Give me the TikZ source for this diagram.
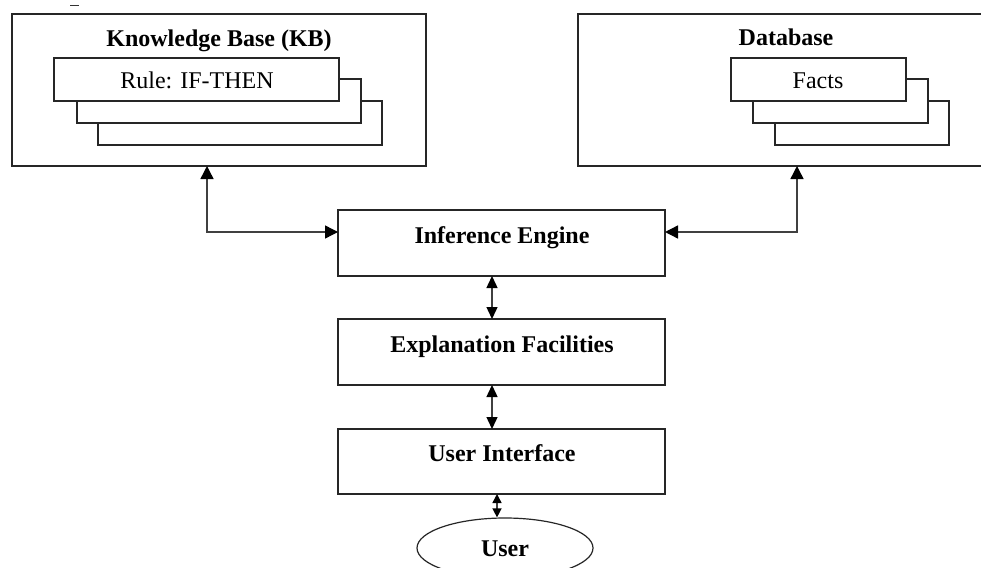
\documentclass[tikz,border=0pt]{standalone}
\usepackage{fontspec}
\setmainfont{Liberation Serif}
\usetikzlibrary{arrows.meta,shapes.geometric}
\tikzset{
  lbox/.style={draw=black!85, line width=1.2pt, fill=white, inner sep=0pt, outer sep=0pt},
  txt/.style={anchor=base, inner sep=0pt, font=\fontsize{24}{28}\selectfont},
  btxt/.style={txt, font=\fontsize{24}{28}\selectfont\bfseries},
  conn/.style={draw=black!75, line width=1.4pt, {Triangle[length=13pt,width=13pt,color=black]}-{Triangle[length=13pt,width=13pt,color=black]}},
  mconn/.style={draw=black!75, line width=1.4pt, {Triangle[length=12pt,width=11pt,color=black]}-{Triangle[length=12pt,width=11pt,color=black]}},
  sconn/.style={draw=black!75, line width=1.4pt, {Triangle[length=9pt,width=9pt,color=black]}-{Triangle[length=9pt,width=9pt,color=black]}},
}
\begin{document}
\begin{tikzpicture}[x=1pt,y=-1pt]
\useasboundingbox (0,0) rectangle (981,567);
\clip (0,0) rectangle (981,567);
\fill[white] (0,0) rectangle (981,567);
% stray mark
\draw[black!80, line width=1pt] (70,6) -- (79,6);
% Knowledge base
\node[lbox, minimum width=414pt, minimum height=152pt] (kb) at (219,90) {};
\node[btxt] (kbt) at (219,47) {Knowledge Base (KB)};
\node[lbox, minimum width=284pt, minimum height=44pt] (r3) at (240,123) {};
\node[lbox, minimum width=284pt, minimum height=44pt] (r2) at (219,101) {};
\node[lbox, minimum width=285pt, minimum height=43pt] (r1) at (196.5,79.5) {};
\node[txt] (r1t) at (197,89) {Rule: IF-THEN};
% Database
\node[lbox, minimum width=416pt, minimum height=152pt] (db) at (786,90) {};
\node[btxt] (dbt) at (786,46) {Database};
\node[lbox, minimum width=174pt, minimum height=44pt] (f3) at (862,123) {};
\node[lbox, minimum width=175pt, minimum height=44pt] (f2) at (840.5,101) {};
\node[lbox, minimum width=175pt, minimum height=43pt] (f1) at (818.5,79.5) {};
\node[txt] (f1t) at (818,89) {Facts};
% Middle column
\node[lbox, minimum width=327pt, minimum height=66pt] (ie) at (501.5,243) {};
\node[btxt] (iet) at (502,243) {Inference Engine};
\node[lbox, minimum width=327pt, minimum height=66pt] (ef) at (501.5,352) {};
\node[btxt] (eft) at (502,352) {Explanation Facilities};
\node[lbox, minimum width=327pt, minimum height=65pt] (ui) at (501.5,461.5) {};
\node[btxt] (uit) at (502,461) {User Interface};
\node[draw=black!85, line width=1.2pt, ellipse, inner sep=0pt, minimum width=176pt, minimum height=60pt] (user) at (505,548) {};
\node[btxt] (usert) at (505,556) {User};
% connectors
\draw[conn] ([xshift=-12pt]kb.south) |- ([yshift=11pt]ie.west);
\draw[conn] ([xshift=11pt]db.south) |- ([yshift=11pt]ie.east);
\draw[mconn] ([xshift=-9.5pt]ie.south) -- ([xshift=-9.5pt]ef.north);
\draw[mconn] ([xshift=-9.5pt]ef.south) -- ([xshift=-9.5pt]ui.north);
\draw[sconn] ([xshift=-4.5pt]ui.south) -- ([xshift=-8pt]user.north);
\end{tikzpicture}
\end{document}
